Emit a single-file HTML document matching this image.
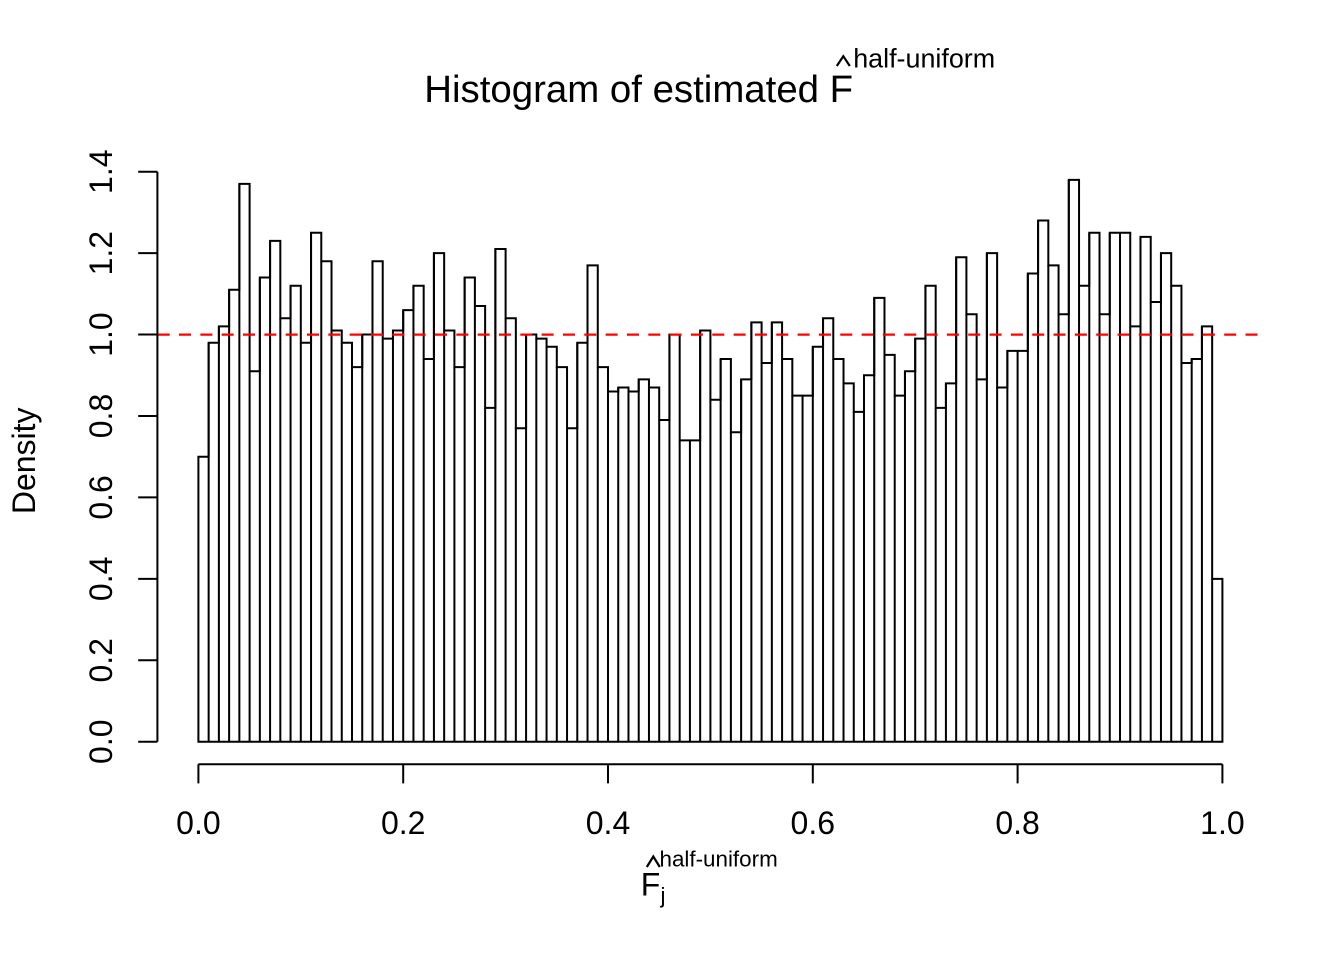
<!DOCTYPE html>
<html>
<head>
<meta charset="utf-8">
<style>
html,body{margin:0;padding:0;background:#fff;}
svg{display:block;}
text{font-family:"Liberation Sans",Arial,Helvetica,sans-serif;fill:#000;}
</style>
</head>
<body>
<svg width="1344" height="960" viewBox="0 0 1344 960" xmlns="http://www.w3.org/2000/svg">
<rect x="0" y="0" width="1344" height="960" fill="#fff"/>
<text x="424.3" y="102" font-size="38.4">Histogram of estimated F</text>
<polyline points="836.8,66 843.3,56.2 849.8,66" fill="none" stroke="#000" stroke-width="2.2"/>
<text x="853.2" y="67.3" font-size="26.9">half-uniform</text>
<g transform="translate(198.4,741.7) scale(10.24,-407.14)" fill="none" stroke="#000" stroke-width="2">
<path vector-effect="non-scaling-stroke" d="M0 0V.70H1V.98H2V1.02H3V1.11H4V1.37H5V.91H6V1.14H7V1.23H8V1.04H9V1.12H10V.98H11V1.25H12V1.18H13V1.01H14V.98H15V.92H16V1H17V1.18H18V.99H19V1.01H20V1.06H21V1.12H22V.94H23V1.2H24V1.01H25V.92H26V1.14H27V1.07H28V.82H29V1.21H30V1.04H31V.77H32V1H33V.99H34V.97H35V.92H36V.77H37V.98H38V1.17H39V.92H40V.86H41V.87H42V.86H43V.89H44V.87H45V.79H46V1H47V.74H48V.74H49V1.01H50V.84H51V.94H52V.76H53V.89H54V1.03H55V.93H56V1.03H57V.94H58V.85H59V.85H60V.97H61V1.04H62V.94H63V.88H64V.81H65V.9H66V1.09H67V.95H68V.85H69V.91H70V.99H71V1.12H72V.82H73V.88H74V1.19H75V1.05H76V.89H77V1.2H78V.87H79V.96H80V.96H81V1.15H82V1.28H83V1.17H84V1.05H85V1.38H86V1.12H87V1.25H88V1.05H89V1.25H90V1.25H91V1.02H92V1.24H93V1.08H94V1.2H95V1.12H96V.93H97V.94H98V1.02H99V.4H100V0Z"/>
<path vector-effect="non-scaling-stroke" d="M1 0V.98M2 0V1.02M3 0V1.11M4 0V1.37M5 0V.91M6 0V1.14M7 0V1.23M8 0V1.04M9 0V1.12M10 0V.98M11 0V1.25M12 0V1.18M13 0V1.01M14 0V.98M15 0V.92M16 0V1M17 0V1.18M18 0V.99M19 0V1.01M20 0V1.06M21 0V1.12M22 0V.94M23 0V1.2M24 0V1.01M25 0V.92M26 0V1.14M27 0V1.07M28 0V.82M29 0V1.21M30 0V1.04M31 0V.77M32 0V1M33 0V.99M34 0V.97M35 0V.92M36 0V.77M37 0V.98M38 0V1.17M39 0V.92M40 0V.86M41 0V.87M42 0V.86M43 0V.89M44 0V.87M45 0V.79M46 0V1M47 0V.74M48 0V.74M49 0V1.01M50 0V.84M51 0V.94M52 0V.76M53 0V.89M54 0V1.03M55 0V.93M56 0V1.03M57 0V.94M58 0V.85M59 0V.85M60 0V.97M61 0V1.04M62 0V.94M63 0V.88M64 0V.81M65 0V.9M66 0V1.09M67 0V.95M68 0V.85M69 0V.91M70 0V.99M71 0V1.12M72 0V.82M73 0V.88M74 0V1.19M75 0V1.05M76 0V.89M77 0V1.2M78 0V.87M79 0V.96M80 0V.96M81 0V1.15M82 0V1.28M83 0V1.17M84 0V1.05M85 0V1.38M86 0V1.12M87 0V1.25M88 0V1.05M89 0V1.25M90 0V1.25M91 0V1.02M92 0V1.24M93 0V1.08M94 0V1.2M95 0V1.12M96 0V.93M97 0V.94M98 0V1.02M99 0V.4"/>
</g>
<line x1="157.4" y1="334.6" x2="1263.4" y2="334.6" stroke="#ff0000" stroke-width="2.2" stroke-dasharray="12 9.33" stroke-dashoffset="-0.3"/>
<path d="M157.4 171.7V741.7M138.2 741.7H157.4M138.2 660.27H157.4M138.2 578.84H157.4M138.2 497.42H157.4M138.2 415.99H157.4M138.2 334.56H157.4M138.2 253.13H157.4M138.2 171.7H157.4" stroke="#000" stroke-width="2" fill="none"/>
<g font-size="32" text-anchor="middle">
<text x="112" y="741.7" transform="rotate(-90 112 741.7)">0.0</text>
<text x="112" y="660.27" transform="rotate(-90 112 660.27)">0.2</text>
<text x="112" y="578.84" transform="rotate(-90 112 578.84)">0.4</text>
<text x="112" y="497.42" transform="rotate(-90 112 497.42)">0.6</text>
<text x="112" y="415.99" transform="rotate(-90 112 415.99)">0.8</text>
<text x="112" y="334.56" transform="rotate(-90 112 334.56)">1.0</text>
<text x="112" y="253.13" transform="rotate(-90 112 253.13)">1.2</text>
<text x="112" y="171.7" transform="rotate(-90 112 171.7)">1.4</text>
</g>
<text x="35" y="460.8" font-size="32" text-anchor="middle" transform="rotate(-90 35 460.8)">Density</text>
<path d="M198.4 764.2H1222.4M198.4 764.2V783.4M403.2 764.2V783.4M608 764.2V783.4M812.8 764.2V783.4M1017.6 764.2V783.4M1222.4 764.2V783.4" stroke="#000" stroke-width="2" fill="none"/>
<g font-size="32" text-anchor="middle">
<text x="198.4" y="834">0.0</text>
<text x="403.2" y="834">0.2</text>
<text x="608" y="834">0.4</text>
<text x="812.8" y="834">0.6</text>
<text x="1017.6" y="834">0.8</text>
<text x="1222.4" y="834">1.0</text>
</g>
<text x="640.7" y="895.7" font-size="32">F</text>
<polyline points="646.8,867 653.3,856.5 659.8,867" fill="none" stroke="#000" stroke-width="2.2"/>
<text x="659.5" y="866.7" font-size="22.4">half-uniform</text>
<text x="660.5" y="903" font-size="22.4">j</text>
</svg>
</body>
</html>
